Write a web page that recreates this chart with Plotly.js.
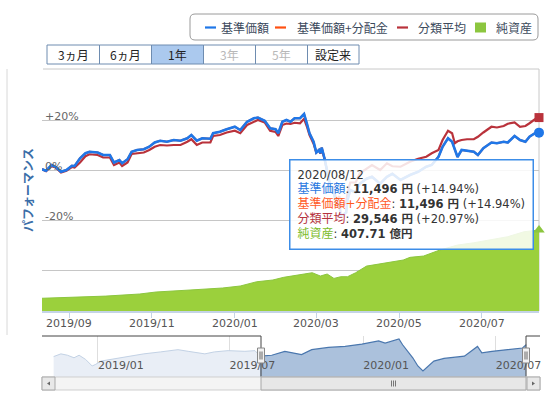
<!DOCTYPE html>
<html><head><meta charset="utf-8">
<script src="https://cdn.plot.ly/plotly-3.0.1.min.js"></script>
<style>html,body{margin:0;padding:0;background:#fff}#chart{width:560px;height:399px}</style>
</head><body><div id="chart"></div>
<script>
// ---------------- DATA ----------------
const seriesNames = ['基準価額', '基準価額+分配金', '分類平均', '純資産'];
const rangeButtons = ['3ヵ月', '6ヵ月', '1年', '3年', '5年', '設定来'];

const perfDates = ['2019-08-12','2019-08-15','2019-08-19','2019-08-22','2019-08-26','2019-08-30','2019-09-03','2019-09-05','2019-09-09','2019-09-13','2019-09-16','2019-09-22','2019-09-26','2019-10-01','2019-10-04','2019-10-08','2019-10-10','2019-10-14','2019-10-17','2019-10-21','2019-10-26','2019-10-30','2019-11-03','2019-11-07','2019-11-12','2019-11-17','2019-11-22','2019-11-27','2019-11-30','2019-12-04','2019-12-08','2019-12-14','2019-12-16','2019-12-21','2019-12-26','2020-01-01','2020-01-05','2020-01-10','2020-01-15','2020-01-18','2020-01-23','2020-01-27','2020-01-31','2020-02-02','2020-02-05','2020-02-08','2020-02-11','2020-02-14','2020-02-18','2020-02-21','2020-02-23','2020-02-25','2020-02-28','2020-03-01','2020-03-03','2020-03-04','2020-03-05','2020-03-07','2020-03-10','2020-03-12','2020-03-13','2020-03-16','2020-03-18','2020-03-19','2020-03-23','2020-03-24','2020-03-26','2020-03-30','2020-04-02','2020-04-07','2020-04-11','2020-04-17','2020-04-22','2020-04-26','2020-05-02','2020-05-09','2020-05-15','2020-05-21','2020-05-25','2020-05-30','2020-06-02','2020-06-06','2020-06-09','2020-06-11','2020-06-13','2020-06-16','2020-06-20','2020-06-25','2020-06-28','2020-07-02','2020-07-08','2020-07-12','2020-07-17','2020-07-20','2020-07-25','2020-07-29','2020-08-02','2020-08-05','2020-08-09','2020-08-12'];

// 基準価額 (% change)
const basePct = [0.3,-0.3,2.0,1.3,-0.7,0.0,1.7,1.6,4.7,6.7,7.3,7.0,6.0,6.0,3.0,4.0,2.7,4.3,7.3,8.0,8.3,9.3,11.0,11.7,11.3,12.0,11.7,12.7,14.0,11.7,12.7,12.5,14.7,15.3,16.3,17.3,16.0,19.3,20.7,21.0,19.7,16.7,16.3,14.7,19.3,20.0,19.3,20.7,20.7,22.4,18.7,14.7,11.3,7.0,8.0,6.7,9.0,4.7,-3.0,-9.0,-7.0,-14.0,-13.0,-18.5,-17.0,-12.0,-8.0,-9.0,-5.5,-3.5,-2.7,-5.5,-2.7,-1.5,-4.0,-2.0,-0.7,1.3,2.0,5.3,9.3,12.7,11.3,8.0,5.2,8.0,7.7,7.3,6.0,8.7,11.0,10.7,11.3,11.0,13.6,12.0,11.3,13.3,14.7,14.94];
// 基準価額+分配金 (% change) – no distributions, identical to 基準価額
const baseDistPct = [0.3,-0.3,2.0,1.3,-0.7,0.0,1.7,1.6,4.7,6.7,7.3,7.0,6.0,6.0,3.0,4.0,2.7,4.3,7.3,8.0,8.3,9.3,11.0,11.7,11.3,12.0,11.7,12.7,14.0,11.7,12.7,12.5,14.7,15.3,16.3,17.3,16.0,19.3,20.7,21.0,19.7,16.7,16.3,14.7,19.3,20.0,19.3,20.7,20.7,22.4,18.7,14.7,11.3,7.0,8.0,6.7,9.0,4.7,-3.0,-9.0,-7.0,-14.0,-13.0,-18.5,-17.0,-12.0,-8.0,-9.0,-5.5,-3.5,-2.7,-5.5,-2.7,-1.5,-4.0,-2.0,-0.7,1.3,2.0,5.3,9.3,12.7,11.3,8.0,5.2,8.0,7.7,7.3,6.0,8.7,11.0,10.7,11.3,11.0,13.6,12.0,11.3,13.3,14.7,14.94];
// 分類平均 (% change)
const catAvgPct = [0.3,-0.5,1.5,1.0,-1.0,-0.3,1.2,1.0,3.0,5.5,6.3,6.0,5.0,5.0,2.0,3.0,1.6,3.0,6.4,6.8,7.0,8.0,9.3,10.0,9.8,10.0,10.0,11.3,12.3,10.0,11.0,11.0,13.6,14.0,15.0,15.7,14.7,18.0,19.3,20.0,19.0,15.7,15.2,13.6,18.0,18.6,18.4,18.9,18.7,20.5,17.5,14.0,10.5,7.0,8.0,6.5,8.5,4.5,-3.0,-8.0,-6.5,-12.0,-10.5,-15.0,-13.0,-9.0,-5.0,-5.0,-1.3,0.5,2.0,0.0,2.7,1.5,1.3,3.3,4.5,5.3,6.7,8.0,12.0,15.7,14.7,10.7,11.5,12.0,12.3,12.3,13.3,15.0,17.3,17.0,17.6,18.5,19.0,17.3,17.6,18.7,20.3,20.97];

// 純資産 (億円)
const netDates = ['2019-08-12','2019-09-03','2019-09-28','2019-10-23','2019-11-04','2019-11-29','2019-12-23','2020-01-05','2020-01-17','2020-01-29','2020-02-06','2020-02-21','2020-02-27','2020-03-04','2020-03-09','2020-03-14','2020-03-19','2020-03-24','2020-03-30','2020-04-07','2020-04-17','2020-04-26','2020-05-04','2020-05-09','2020-05-19','2020-05-31','2020-06-13','2020-06-25','2020-07-07','2020-07-20','2020-08-01','2020-08-12'];
const netValues = [64,69,75,85.5,95.6,105.6,115.7,125.8,147,156,169.5,186,192.6,176,186,164,172.5,172.5,192.6,226,236,248,256.5,270,276.6,307,332,343.5,357,374,399,407.71];

// navigator: 基準価額 since inception (円)
const histDates = ['2018-11-01','2018-11-11','2018-11-20','2018-11-29','2018-12-06','2018-12-15','2018-12-24','2018-12-29','2019-01-05','2019-01-19','2019-02-10','2019-03-05','2019-03-28','2019-04-21','2019-05-05','2019-05-28','2019-06-10','2019-06-29','2019-07-22','2019-08-05','2019-08-12','2019-08-28','2019-09-15','2019-10-08','2019-10-22','2019-11-14','2019-12-07','2019-12-30','2020-01-22','2020-01-31','2020-02-19','2020-02-24','2020-03-09','2020-03-16','2020-03-23','2020-03-30','2020-04-07','2020-04-21','2020-05-05','2020-05-19','2020-06-06','2020-06-12','2020-06-26','2020-07-05','2020-07-24','2020-08-07','2020-08-12'];
const histPrices = [9950,10304,10127,9797,10127,9582,8734,8949,9367,9582,10000,10304,10557,10848,10633,10304,10557,10722,10633,10722,10002,10127,10633,10215,10848,11139,11266,11570,11987,11696,12240,11481,9797,8734,8100,8734,9367,9709,9873,10000,11270,10430,10633,10722,10975,11063,11496];

const mainTicks = ['2019-09-01','2019-11-01','2020-01-01','2020-03-01','2020-05-01','2020-07-01'];
const mainTickText = ['2019/09','2019/11','2020/01','2020/03','2020/05','2020/07'];
const navTicks = ['2019-01-01','2019-07-01','2020-01-01','2020-07-01'];
const navTickText = ['2019/01','2019/07','2020/01','2020/07'];
const perfTickVals = [20, 0, -20, -40];
const perfTickText = ['+20%', '0%', '-20%', ''];

const selStart = '2019-08-12', selEnd = '2020-08-12';

const tipDate = '2020/08/12';
const tipValues = ['11,496 円', '11,496 円', '29,546 円', '407.71 億円'];
const tipChanges = ['(+14.94%)', '(+14.94%)', '(+20.97%)', ''];

// ---------------- STYLE / LAYOUT ----------------
const FONT = 'DejaVu Sans, "Noto Sans CJK JP", sans-serif';
const JFONT = '"Noto Sans CJK JP", DejaVu Sans, sans-serif';
const C_BLUE = '#1f77e8', C_ORANGE = '#ff5011', C_RED = '#b9323b', C_GREEN = '#8cc63f';
const labelColors = ['#2a78e0', '#ff5a1f', '#b5323d', '#7cbb2a'];

// pixel frame of the whole plotting region
const L = 42, R = 550, T = 69, B = 391;
const W = R - L, H = B - T;
const px = x => (x - L) / W;
const py = y => (B - y) / H;
const MAIN_R = 539, NAV_R = 540;

const last = a => a[a.length - 1];

const selIdx = histDates.map((d, i) => i).filter(i => histDates[i] >= selStart);
const unselIdx = histDates.map((d, i) => i).filter(i => histDates[i] <= selStart);

// overlay x-range for end markers (same scale as main x axis, extended to the right margin)
const t0 = Date.parse(selStart), t1 = Date.parse(selEnd);
const msPerPx = (t1 - t0) / (MAIN_R - L);
const markerRange = [t0, t1 + (R - MAIN_R) * msPerPx];

const traces = [
  { x: netDates, y: netValues, yaxis: 'y2', type: 'scatter', mode: 'lines', fill: 'tozeroy',
    line: { color: C_GREEN, width: 1 }, fillcolor: '#9bd03c', name: seriesNames[3] },
  { x: perfDates, y: baseDistPct, type: 'scatter', mode: 'lines', line: { color: C_ORANGE, width: 2 }, name: seriesNames[1] },
  { x: perfDates, y: catAvgPct, type: 'scatter', mode: 'lines', line: { color: C_RED, width: 2.2 }, name: seriesNames[2] },
  { x: perfDates, y: basePct, type: 'scatter', mode: 'lines', line: { color: C_BLUE, width: 2.6 }, name: seriesNames[0] },
  // end markers (overlay subplot reaching into the right margin)
  { x: [Date.parse(last(perfDates))], y: [last(catAvgPct)], xaxis: 'x3', yaxis: 'y4', type: 'scatter', mode: 'markers',
    marker: { symbol: 'square', size: 9, color: C_RED } },
  { x: [Date.parse(last(perfDates))], y: [last(basePct)], xaxis: 'x3', yaxis: 'y4', type: 'scatter', mode: 'markers',
    marker: { symbol: 'circle', size: 10, color: C_BLUE } },
  { x: [Date.parse(last(netDates))], y: [last(netValues)], xaxis: 'x3', yaxis: 'y5', type: 'scatter', mode: 'markers',
    marker: { symbol: 'triangle-up', size: 10, color: C_GREEN } },
  // navigator
  { x: unselIdx.map(i => histDates[i]), y: unselIdx.map(i => histPrices[i]), xaxis: 'x2', yaxis: 'y3',
    type: 'scatter', mode: 'lines', fill: 'tozeroy', line: { color: '#c3d2e5', width: 1 }, fillcolor: '#e9eef6' },
  { x: selIdx.map(i => histDates[i]), y: selIdx.map(i => histPrices[i]), xaxis: 'x2', yaxis: 'y3',
    type: 'scatter', mode: 'lines', fill: 'tozeroy', line: { color: '#4a77ae', width: 1.2 }, fillcolor: '#abc1dc' }
];

const shapes = [];
const ann = [];
const line = (x0, y0, x1, y1, color, width, layer) => shapes.push({ type: 'line', xref: 'paper', yref: 'paper',
  x0: px(x0), y0: py(y0), x1: px(x1), y1: py(y1), line: { color, width: width || 1 }, layer: layer || 'above' });
const rect = (x0, y0, x1, y1, fill, lc, lw) => shapes.push({ type: 'rect', xref: 'paper', yref: 'paper',
  x0: px(x0), y0: py(y0), x1: px(x1), y1: py(y1), fillcolor: fill, line: { color: lc, width: lw === undefined ? 1 : lw }, layer: 'above' });
const text = (x, y, t, opt) => ann.push(Object.assign({ xref: 'paper', yref: 'paper', x: px(x), y: py(y), text: t,
  showarrow: false, xanchor: 'left', yanchor: 'middle', font: { family: JFONT, size: 12, color: '#333' } }, opt || {}));

// frame lines
line(7, 69, 7, 335, '#d8d8d8', 1, 'below');
line(43, 69, MAIN_R, 69, '#c8c8c8', 1, 'below');
line(MAIN_R, 69, MAIN_R, 311, '#c8c8c8', 1, 'below');

// legend box (rounded)
(function () {
  const x0 = 190, x1 = 538, y0 = 14, y1 = 40, r = 5;
  const P = (x, y) => `${px(x)},${py(y)}`;
  shapes.push({ type: 'path', xref: 'paper', yref: 'paper', line: { color: '#9a9a9a', width: 1 }, fillcolor: '#fff',
    path: `M ${P(x0 + r, y0)} L ${P(x1 - r, y0)} Q ${P(x1, y0)} ${P(x1, y0 + r)} L ${P(x1, y1 - r)} Q ${P(x1, y1)} ${P(x1 - r, y1)} L ${P(x0 + r, y1)} Q ${P(x0, y1)} ${P(x0, y1 - r)} L ${P(x0, y0 + r)} Q ${P(x0, y0)} ${P(x0 + r, y0)} Z` });
})();
const legColors = [C_BLUE, C_ORANGE, C_RED];
const legSymX = [205, 275, 397];
const legTextX = [219, 295, 416];
for (let i = 0; i < 3; i++) {
  line(legSymX[i], 27.5, legSymX[i] + 11, 27.5, legColors[i], 2.2);
  text(legTextX[i], 27.5, seriesNames[i], { font: { family: JFONT, size: 12, color: '#3c4a5c' } });
}
rect(475, 22.5, 486, 32.5, '#8cc63f', '#8cc63f', 0);
text(494, 27.5, seriesNames[3], { font: { family: JFONT, size: 12, color: '#3c4a5c' } });

// range buttons
const btnX = [47, 99.5, 151.5, 203.5, 255.5, 307.5, 359];
for (let i = 0; i < rangeButtons.length; i++) {
  const sel = i === 2, dis = (i === 3 || i === 4);
  rect(btnX[i], 45, btnX[i + 1], 64, sel ? '#abc9ee' : '#ffffff', '#6e8cb0', 1);
  ann.push({ xref: 'paper', yref: 'paper', x: px((btnX[i] + btnX[i + 1]) / 2), y: py(54.5), text: rangeButtons[i],
    showarrow: false, xanchor: 'center', yanchor: 'middle',
    font: { family: JFONT, size: 12, color: dis ? '#b8b8b8' : '#222' } });
}

// main x-axis tick labels, positioned by the x axis
mainTicks.forEach((d, i) => ann.push({ xref: 'x', yref: 'paper', x: d, y: py(323), text: mainTickText[i],
  showarrow: false, xanchor: 'center', yanchor: 'middle', font: { family: FONT, size: 11, color: '#555' } }));

// navigator outline + handles
const navTop = 336, navBot = 377, hL = 261, hR = 526;
shapes.push({ type: 'path', xref: 'paper', yref: 'paper', line: { color: '#444', width: 1 },
  path: `M ${px(42)},${py(navTop)} L ${px(hL)},${py(navTop)} L ${px(hL)},${py(navBot)}` });
shapes.push({ type: 'path', xref: 'paper', yref: 'paper', line: { color: '#444', width: 1 },
  path: `M ${px(hR)},${py(navBot)} L ${px(hR)},${py(navTop)} L ${px(NAV_R)},${py(navTop)}` });
[hL, hR].forEach(h => {
  rect(h - 3.5, 348, h + 3.5, 363, '#f2f2f2', '#888', 1);
  line(h - 1, 351.5, h - 1, 359.5, '#666', 1);
  line(h + 1, 351.5, h + 1, 359.5, '#666', 1);
});

// scrollbar
rect(42, 377, NAV_R, 390, '#f4f4f4', '#cfcfcf', 1);
rect(42, 377, 55, 390, '#e8e8e8', '#a8a8a8', 1);
rect(NAV_R - 13, 377, NAV_R, 390, '#e8e8e8', '#a8a8a8', 1);
rect(hL, 377, hR, 390, '#e7e7e7', '#a8a8a8', 1);
[-2, 0, 2].forEach(d => line((hL + hR) / 2 + d, 380.5, (hL + hR) / 2 + d, 386.5, '#777', 1));
shapes.push({ type: 'path', xref: 'paper', yref: 'paper', fillcolor: '#666', line: { width: 0 },
  path: `M ${px(47)},${py(383.5)} L ${px(50)},${py(381.5)} L ${px(50)},${py(385.5)} Z` });
shapes.push({ type: 'path', xref: 'paper', yref: 'paper', fillcolor: '#666', line: { width: 0 },
  path: `M ${px(535)},${py(383.5)} L ${px(532)},${py(381.5)} L ${px(532)},${py(385.5)} Z` });

// tooltip
let tip = `${tipDate}`;
for (let i = 0; i < 4; i++) {
  tip += `<br><span style="color:${labelColors[i]};font-size:12px">${seriesNames[i]}</span>: <b>${tipValues[i]}</b>` + (tipChanges[i] ? ` ${tipChanges[i]}` : '');
}
ann.push({ xref: 'paper', yref: 'paper', x: px(289), y: py(158.5), xanchor: 'left', yanchor: 'top', showarrow: false,
  text: tip, align: 'left', borderpad: 7,
  bgcolor: 'rgba(255,255,255,0.86)', bordercolor: '#3c8de8', borderwidth: 1.5,
  font: { family: FONT, size: 11.5, color: '#333' } });

const axOff = { visible: false, showgrid: false, zeroline: false, showticklabels: false, showline: false };

const layout = {
  width: 560, height: 399,
  margin: { l: L, r: 560 - R, t: T, b: 399 - B, pad: 0 },
  paper_bgcolor: '#fff', plot_bgcolor: 'rgba(0,0,0,0)',
  showlegend: false, hovermode: false, dragmode: false,
  font: { family: FONT, size: 11, color: '#555' },
  xaxis: { type: 'date', range: [selStart, selEnd], domain: [0, px(MAIN_R)], anchor: 'y',
    tickmode: 'array', tickvals: mainTicks, ticktext: mainTickText, showticklabels: false,
    ticks: 'outside', ticklen: 5, tickcolor: '#c4d4e6',
    showline: true, linecolor: '#c4d4e6', linewidth: 1.5, showgrid: false, zeroline: false },
  yaxis: { domain: [py(311), 1], range: [-56.4, 40.4], tickmode: 'array', tickvals: perfTickVals, ticktext: perfTickText,
    ticklabelposition: 'inside top', ticklabelshift: 4, showgrid: true, gridcolor: '#c6c6c6', gridwidth: 1, zeroline: false,
    showline: false, ticks: '', ticklabeloverflow: 'allow', tickfont: { family: FONT, size: 11, color: '#666' },
    title: { text: '<b>パフォーマンス</b>', standoff: 8, font: { family: JFONT, size: 12, color: '#3b6ea8' } } },
  yaxis2: Object.assign({ overlaying: 'y', side: 'right', range: [0, 1218] }, axOff),
  xaxis2: { type: 'date', anchor: 'y3', domain: [0, px(NAV_R)], range: ['2018-10-16', '2020-08-31'],
    tickmode: 'array', tickvals: navTicks, ticktext: navTickText, ticklabelposition: 'inside right', ticks: '',
    ticklabeloverflow: 'allow', showgrid: true, gridcolor: '#dedede', showline: false, zeroline: false,
    tickfont: { family: FONT, size: 11, color: '#555' } },
  yaxis3: Object.assign({ domain: [py(navBot), py(navTop)], range: [7304, 12620], anchor: 'x2' }, axOff),
  xaxis3: Object.assign({ type: 'date', domain: [0, 1], range: markerRange, anchor: 'y4' }, axOff),
  yaxis4: Object.assign({ domain: [py(311), 1], range: [-56.4, 40.4], anchor: 'x3' }, axOff),
  yaxis5: Object.assign({ overlaying: 'y4', range: [0, 1218], anchor: 'x3' }, axOff),
  shapes, annotations: ann
};

Plotly.newPlot('chart', traces, layout, { displayModeBar: false, staticPlot: true });
</script>
</body></html>
